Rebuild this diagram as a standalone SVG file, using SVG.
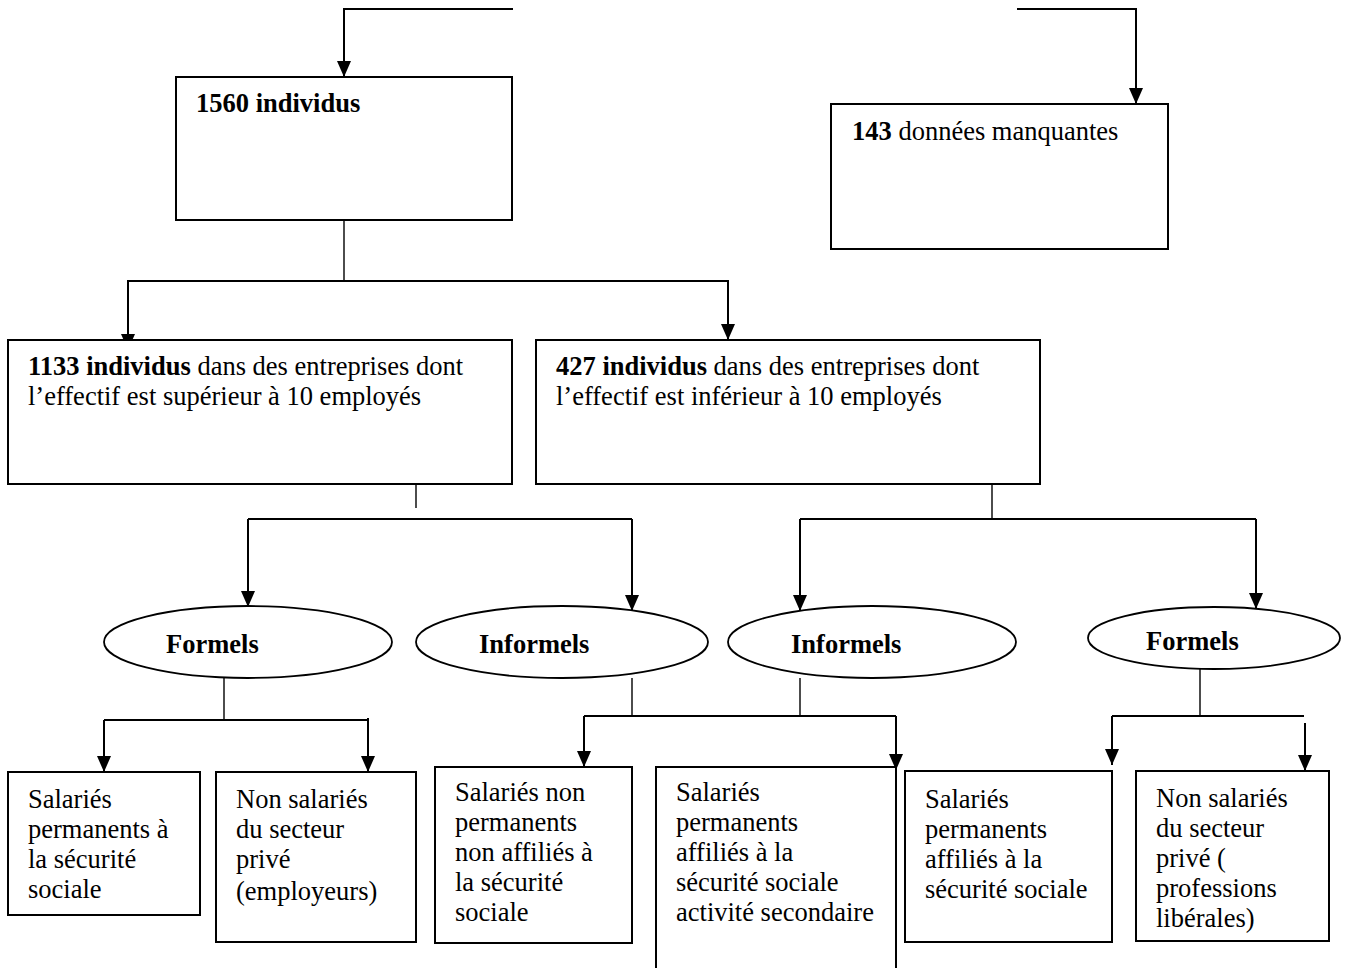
<svg xmlns="http://www.w3.org/2000/svg" width="1350" height="971" viewBox="0 0 1350 971">
<style>
.box{fill:#fff;stroke:#000;stroke-width:2}
.el{fill:#fff;stroke:#000;stroke-width:1.8}
.c{fill:none;stroke:#000;stroke-width:2}
.t{fill:none;stroke:#000;stroke-width:1.4}
.a{fill:none;stroke:#000;stroke-width:2;marker-end:url(#ah)}
text{font-family:"Liberation Serif","Times New Roman",serif;font-size:26.5px;fill:#000}
.b{font-weight:bold}
</style>
<defs>
<marker id="ah" markerUnits="userSpaceOnUse" viewBox="0 -7 16 14" markerWidth="16" markerHeight="14" refX="16" refY="0" orient="auto">
<path d="M0,-7 L16,0 L0,7 z" fill="#000"/>
</marker>
</defs>
<rect width="1350" height="971" fill="#fff"/>
<g id="connectors">
<path class="c" d="M513,9 H344 V62"/>
<path class="a" d="M344,60 V77"/>
<path class="c" d="M1017,9 H1136 V90"/>
<path class="a" d="M1136,88 V104"/>
<path class="t" d="M344,220 V281"/>
<path class="c" d="M344,281 H128 V336"/>
<path class="a" d="M128,334 V350"/>
<path class="c" d="M344,281 H728 V326"/>
<path class="a" d="M728,324 V340"/>
<path class="t" d="M416,484 V508"/>
<path class="c" d="M248,519 H632"/>
<path class="c" d="M248,519 V593"/>
<path class="a" d="M248,591 V607"/>
<path class="c" d="M632,519 V597"/>
<path class="a" d="M632,595 V611"/>
<path class="t" d="M992,484 V519"/>
<path class="c" d="M800,519 H1256"/>
<path class="c" d="M800,519 V597"/>
<path class="a" d="M800,595 V611"/>
<path class="c" d="M1256,519 V595"/>
<path class="a" d="M1256,593 V609"/>
<path class="t" d="M224,678 V720"/>
<path class="c" d="M104,720 H368"/>
<path class="c" d="M104,720 V758"/>
<path class="a" d="M104,756 V772"/>
<path class="c" d="M368,718 V758"/>
<path class="a" d="M368,756 V772"/>
<path class="t" d="M632,678 V716"/>
<path class="t" d="M800,678 V716"/>
<path class="c" d="M584,716 H896"/>
<path class="c" d="M584,716 V753"/>
<path class="a" d="M584,751 V767"/>
<path class="c" d="M896,716 V756"/>
<path class="a" d="M896,754 V770"/>
<path class="t" d="M1200,669 V716"/>
<path class="c" d="M1112,716 H1304"/>
<path class="c" d="M1112,716 V751"/>
<path class="a" d="M1112,749 V765"/>
<path class="c" d="M1305,723 V757"/>
<path class="a" d="M1305,755 V771"/>
</g>
<g id="n1560">
<rect class="box" x="176" y="77" width="336" height="143"/>
<text x="196" y="112" class="b">1560 individus</text>
</g>
<g id="n143">
<rect class="box" x="831" y="104" width="337" height="145"/>
<text x="852" y="140"><tspan class="b">143</tspan> données manquantes</text>
</g>
<g id="n1133">
<rect class="box" x="8" y="340" width="504" height="144"/>
<text x="28" y="375"><tspan class="b">1133 individus</tspan> dans des entreprises dont</text>
<text x="28" y="405">l’effectif est supérieur à 10 employés</text>
</g>
<g id="n427">
<rect class="box" x="536" y="340" width="504" height="144"/>
<text x="556" y="375"><tspan class="b">427 individus</tspan> dans des entreprises dont</text>
<text x="556" y="405">l’effectif est inférieur à 10 employés</text>
</g>
<g id="formels1">
<ellipse class="el" cx="248" cy="642" rx="144" ry="36"/>
<text x="166" y="653" class="b">Formels</text>
</g>
<g id="informels1">
<ellipse class="el" cx="562" cy="642" rx="146" ry="36"/>
<text x="479" y="653" class="b">Informels</text>
</g>
<g id="informels2">
<ellipse class="el" cx="872" cy="642" rx="144" ry="36"/>
<text x="791" y="653" class="b">Informels</text>
</g>
<g id="formels2">
<ellipse class="el" cx="1214" cy="638" rx="126" ry="31"/>
<text x="1146" y="650" class="b">Formels</text>
</g>
<g id="b1">
<rect class="box" x="8" y="772" width="192" height="143"/>
<text x="28" y="808">Salariés</text>
<text x="28" y="838">permanents à</text>
<text x="28" y="868">la sécurité</text>
<text x="28" y="898">sociale</text>
</g>
<g id="b2">
<rect class="box" x="216" y="772" width="200" height="170"/>
<text x="236" y="808">Non salariés</text>
<text x="236" y="838">du secteur</text>
<text x="236" y="868">privé</text>
<text x="236" y="900">(employeurs)</text>
</g>
<g id="b3">
<rect class="box" x="435" y="767" width="197" height="176"/>
<text x="455" y="801">Salariés non</text>
<text x="455" y="831">permanents</text>
<text x="455" y="861">non affiliés à</text>
<text x="455" y="891">la sécurité</text>
<text x="455" y="921">sociale</text>
</g>
<g id="b4">
<path class="c" d="M656,968 V767 H896 V968"/>
<text x="676" y="801">Salariés</text>
<text x="676" y="831">permanents</text>
<text x="676" y="861">affiliés à la</text>
<text x="676" y="891">sécurité sociale</text>
<text x="676" y="921">activité secondaire</text>
</g>
<g id="b5">
<rect class="box" x="905" y="771" width="207" height="171"/>
<text x="925" y="808">Salariés</text>
<text x="925" y="838">permanents</text>
<text x="925" y="868">affiliés à la</text>
<text x="925" y="898">sécurité sociale</text>
</g>
<g id="b6">
<rect class="box" x="1136" y="771" width="193" height="170"/>
<text x="1156" y="807">Non salariés</text>
<text x="1156" y="837">du secteur</text>
<text x="1156" y="867">privé (</text>
<text x="1156" y="897">professions</text>
<text x="1156" y="927">libérales)</text>
</g>
</svg>
